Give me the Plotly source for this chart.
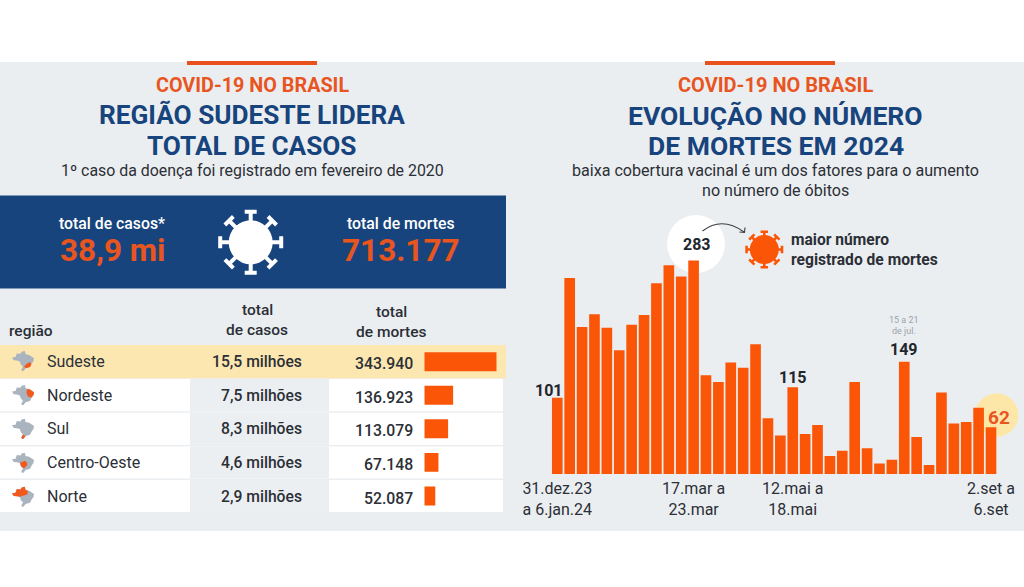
import math
import plotly.graph_objects as go

# ---------- data ----------
regions = ["Sudeste", "Nordeste", "Sul", "Centro-Oeste", "Norte"]
cases_labels = ["15,5 milhões", "7,5 milhões", "8,3 milhões", "4,6 milhões", "2,9 milhões"]
deaths = [343940, 136923, 113079, 67148, 52087]
deaths_labels = ["343.940", "136.923", "113.079", "67.148", "52.087"]

weekly_deaths = [101, 260, 195, 212, 194, 164, 198, 211, 253, 277, 262, 283,
                 131, 122, 148, 141, 172, 74, 51, 115, 53, 65, 24, 31,
                 122, 34, 14, 19, 149, 49, 12, 108, 67, 69, 88, 62]
week_tick_index = [0, 11, 19, 35]
week_tick_text = ["31.dez.23<br>a 6.jan.24", "17.mar a<br>23.mar", "12.mai a<br>18.mai", "2.set a<br>6.set"]
labelled_weeks = [0, 11, 19, 28, 35]

W, H = 1024, 587
ORANGE = "#fb5607"
TXT_OR = "#e8551f"
NAVY = "#17447c"
DARK = "#2b2f36"
PANEL = "#ebeef1"

def X(p): return p / W
def Y(p): return 1 - p / H

shapes, ann = [], []

def rect(x0, y0, x1, y1, color):
    shapes.append(dict(type="rect", xref="paper", yref="paper", x0=X(x0), x1=X(x1), y0=Y(y0), y1=Y(y1),
                       fillcolor=color, line_width=0, layer="below"))

def circle(cx, cy, r, color):
    shapes.append(dict(type="circle", xref="paper", yref="paper", x0=X(cx - r), x1=X(cx + r), y0=Y(cy - r), y1=Y(cy + r),
                       fillcolor=color, line_width=0, layer="below"))

def poly(pts, color):
    d = "M " + " L ".join(f"{X(a):.5f},{Y(b):.5f}" for a, b in pts) + " Z"
    shapes.append(dict(type="path", xref="paper", yref="paper", path=d, fillcolor=color, line_width=0, layer="below"))

def text(s, x, y, size, color=DARK, weight=400, anchor="center"):
    ann.append(dict(text=s, xref="paper", yref="paper", x=X(x), y=Y(y), xanchor=anchor, yanchor="middle",
                    showarrow=False, font=dict(family="Roboto", size=size, color=color, weight=weight)))

def virus(cx, cy, body, stem_to, stem_w, cap_w, cap_t, color):
    circle(cx, cy, body, color)
    for k in range(8):
        a = k * math.pi / 4
        ux, uy = math.cos(a), math.sin(a)
        vx, vy = -uy, ux
        def P(r, s): return (cx + ux * r + vx * s, cy + uy * r + vy * s)
        poly([P(body - 1, -stem_w / 2), P(stem_to - cap_t, -stem_w / 2), P(stem_to - cap_t, -cap_w / 2),
              P(stem_to, -cap_w / 2), P(stem_to, cap_w / 2), P(stem_to - cap_t, cap_w / 2),
              P(stem_to - cap_t, stem_w / 2), P(body - 1, stem_w / 2)], color)

# ---------- backgrounds ----------
rect(0, 62, 1024, 531, PANEL)
rect(187, 61, 317, 65, "#e8501c")
rect(705, 61, 835, 65, "#e8501c")
rect(0, 195.5, 506, 288.5, NAVY)

row_edges = [345, 378.3, 412, 445.7, 479.3, 512.7]
for i in range(5):
    if i == 0:
        rect(0, row_edges[0], 506, row_edges[1], "#fde7b1")
    else:
        rect(0, row_edges[i] + 0.8, 503, row_edges[i + 1] - 0.8, "#ffffff")
        rect(190, row_edges[i] + 0.8, 329, row_edges[i + 1] - 0.8, "#eceff2")

circle(696, 244, 29, "#ffffff")
circle(996.7, 415, 21.7, "#fde7a8")

# ---------- virus icons ----------
virus(250.7, 242.3, 22, 32.5, 4, 12, 4, "#ffffff")
virus(764.3, 249.5, 14.5, 19, 2.6, 7.5, 2.6, ORANGE)

# ---------- arrow ----------
shapes.append(dict(type="path", xref="paper", yref="paper",
                   path=f"M {X(702.5):.5f},{Y(231):.5f} Q {X(722):.5f},{Y(216):.5f} {X(744):.5f},{Y(232):.5f}",
                   line=dict(color="#3a3d42", width=1.1)))
shapes.append(dict(type="path", xref="paper", yref="paper",
                   path=f"M {X(739.5):.5f},{Y(232):.5f} L {X(744.5):.5f},{Y(232.5):.5f} L {X(745):.5f},{Y(227.5):.5f}",
                   line=dict(color="#3a3d42", width=1.1)))

# ---------- Brazil icons ----------
BR = [(0, .33), (.16, .30), (.22, .12), (.38, .14), (.44, .04), (.58, 0), (.62, .16), (.78, .20), (1, .36), (.98, .50),
      (.88, .66), (.82, .80), (.62, .86), (.52, 1), (.46, 1), (.42, .95), (.50, .78), (.40, .68), (.36, .52), (.22, .48), (.08, .46)]
REG = {
    "Sudeste": [(.55, .78), (.68, .62), (.82, .55), (.88, .66), (.82, .80), (.62, .86)],
    "Nordeste": [(.68, .22), (.78, .20), (1, .36), (.98, .50), (.88, .62), (.72, .58), (.66, .40)],
    "Sul": [(.62, .86), (.52, .82), (.50, .78), (.42, .95), (.46, 1), (.52, 1)],
    "Centro-Oeste": [(.36, .50), (.60, .40), (.68, .50), (.70, .62), (.55, .78), (.42, .70)],
    "Norte": [(0, .33), (.16, .30), (.22, .12), (.38, .14), (.44, .04), (.58, 0), (.62, .16), (.74, .22), (.68, .40),
              (.60, .42), (.36, .50), (.22, .48), (.08, .46)],
}
row_mid = [361, 395, 428.7, 462.7, 496.7]
for name, ym in zip(regions, row_mid):
    ox, oy, sx, sy = 12, ym - 10, 22, 20
    poly([(ox + a * sx, oy + b * sy) for a, b in BR], "#aab4bf")
    poly([(ox + a * sx, oy + b * sy) for a, b in REG[name]], "#f2591c")

# ---------- texts ----------
text("COVID-19 NO BRASIL", 252, 85, 19.8, TXT_OR, 700)
text("REGIÃO SUDESTE LIDERA", 252, 115, 26.2, NAVY, 700)
text("TOTAL DE CASOS", 252, 146, 26.2, NAVY, 700)
text("1º caso da doença foi registrado em fevereiro de 2020", 252, 170, 15.9, DARK)
text("total de casos*", 112, 223.5, 15.8, "#ffffff", 500)
text("38,9 mi", 112, 250, 31.5, TXT_OR, 700)
text("total de mortes", 400.5, 223.5, 15.8, "#ffffff", 500)
text("713.177", 400.5, 250, 31.5, TXT_OR, 700)
text("região", 7, 331, 15.5, DARK, 500, "left")
text("total", 257, 310, 15.5, DARK, 500)
text("de casos", 257, 330, 15.5, DARK, 500)
text("total", 391, 312, 15.5, DARK, 500)
text("de mortes", 391, 332, 15.5, DARK, 500)
for i, ym in enumerate(row_mid):
    text(regions[i], 45, ym, 16, DARK, 400, "left")
    text(cases_labels[i], 304, ym, 15.7, DARK, 500, "right")
    text(deaths_labels[i], 415, ym + 2, 15.8, DARK, 500, "right")

text("COVID-19 NO BRASIL", 775.5, 85, 20, TXT_OR, 700)
text("EVOLUÇÃO NO NÚMERO", 775.5, 115, 26.5, NAVY, 700)
text("DE MORTES EM 2024", 775.5, 146, 26.5, NAVY, 700)
text("baixa cobertura vacinal é um dos fatores para o aumento", 775.5, 170, 16.1, DARK)
text("no número de óbitos", 775.5, 190, 16.1, DARK)
text("maior número", 789, 240, 15.6, DARK, 700, "left")
text("registrado de mortes", 789, 260, 15.6, DARK, 700, "left")
text("15 a 21", 904, 319.5, 9, "#9aa3ab")
text("de jul.", 904, 331, 9, "#9aa3ab")

# value labels attached to the bars
shift = {0: (-8, 7), 11: (3, 16), 19: (0, 9.5), 28: (0, 12), 35: (8, 10)}
for i in labelled_weeks:
    big = i == 35
    ann.append(dict(text=str(weekly_deaths[i]), xref="x", yref="y", x=i, y=weekly_deaths[i],
                    xshift=shift[i][0], yshift=shift[i][1], showarrow=False, xanchor="center", yanchor="middle",
                    font=dict(family="Roboto", size=19 if big else 16, color=TXT_OR if big else "#22262b", weight=700)))

# ---------- traces ----------
fig = go.Figure()
fig.add_bar(x=list(range(len(weekly_deaths))), y=weekly_deaths, marker=dict(color=ORANGE, line_width=0),
            xaxis="x", yaxis="y", showlegend=False)
fig.add_bar(x=deaths, y=regions, orientation="h", marker=dict(color=ORANGE, line_width=0),
            xaxis="x2", yaxis="y2", showlegend=False, width=0.565)

fig.update_layout(
    width=W, height=H, margin=dict(l=0, r=0, t=0, b=0), autosize=False,
    paper_bgcolor="#ffffff", plot_bgcolor="rgba(0,0,0,0)", bargap=0.14, showlegend=False,
    shapes=shapes, annotations=ann, font=dict(family="Roboto"),
    xaxis=dict(domain=[X(551.1), X(997.2)], range=[-0.5, 35.5], tickmode="array", tickvals=week_tick_index,
               ticktext=week_tick_text, tickangle=0, ticks="", showgrid=False, zeroline=False, showline=False,
               tickfont=dict(family="Roboto", size=16, color=DARK), anchor="y", automargin=False, ticklabelstandoff=3),
    yaxis=dict(domain=[Y(474), Y(247.8)], range=[0, 300], showticklabels=False, showgrid=False, zeroline=False,
               showline=False, ticks="", anchor="x"),
    xaxis2=dict(domain=[X(424.3), X(496.7)], range=[0, 343940], showticklabels=False, showgrid=False, zeroline=False,
                showline=False, ticks="", anchor="y2"),
    yaxis2=dict(domain=[Y(512.7), Y(345)], type="category", categoryorder="array", categoryarray=regions,
                autorange="reversed", showticklabels=False, showgrid=False, zeroline=False, showline=False,
                ticks="", anchor="x2"),
)
fig.write_html("out.html", config={"displayModeBar": False}, post_script="document.body.style.margin='0';")
